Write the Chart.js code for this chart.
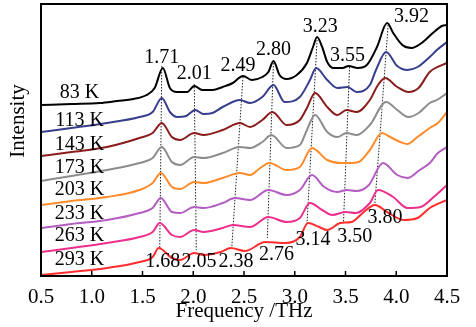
<!DOCTYPE html>
<html><head><meta charset="utf-8">
<script src="https://cdn.jsdelivr.net/npm/chart.js@4.4.1/dist/chart.umd.min.js"></script>
<style>html,body{margin:0;padding:0;background:#fff}#wrap{width:476px;height:327px}</style>
</head><body><div id="wrap"><canvas id="c" width="476" height="327"></canvas></div>
<script>
// ---- data (frequency in THz, intensity in arbitrary units, offset per curve) ----
const xTicks = [0.5,1.0,1.5,2.0,2.5,3.0,3.5,4.0,4.5];
const temps = ['83 K','113 K','143 K','173 K','203 K','233 K','263 K','293 K'];

const freq83 = [0.5,0.8,1.08,1.25,1.41,1.54,1.62,1.70,1.77,1.84,1.94,2.01,2.09,2.19,2.29,2.39,2.49,2.58,2.68,2.74,2.79,2.85,2.92,3.02,3.12,3.18,3.22,3.27,3.32,3.38,3.47,3.53,3.62,3.71,3.81,3.91,3.97,4.06,4.15,4.25,4.36,4.45,4.5];
const int83  = [171,172,173,175,177,181,188,208,188,184,184,190,186,186,189,193,200,196,199,204,215,201,197,201,213,229,239,229,214,208,208,210,208,211,229,253,243,231,228,233,243,250,251];

const freq113 = [0.5,0.8,1.15,1.47,1.6,1.69,1.77,1.84,1.93,2.02,2.1,2.19,2.29,2.46,2.56,2.68,2.79,2.9,3.05,3.15,3.21,3.32,3.42,3.52,3.61,3.74,3.8,3.9,4.01,4.11,4.21,4.33,4.4,4.5];
const int113  = [144,148,153,159,164,178,164,159,160,166,162,163,169,176,173,179,191,174,179,196,208,196,188,189,184,191,206,224,210,206,209,219,226,234];

const freq143 = [0.5,0.8,1.15,1.47,1.6,1.69,1.79,1.87,2.01,2.1,2.29,2.46,2.56,2.68,2.78,2.92,3.05,3.12,3.2,3.32,3.42,3.51,3.61,3.74,3.82,3.89,4.01,4.12,4.22,4.33,4.5];
const int143  = [120,124,129,138,143,153,139,136,143,141,146,153,149,156,164,151,156,168,183,169,161,166,164,176,191,198,189,184,188,204,213];

const freq173 = [0.5,0.8,1.15,1.47,1.6,1.69,1.79,1.87,2.01,2.1,2.29,2.46,2.56,2.68,2.77,2.92,3.05,3.12,3.2,3.32,3.42,3.51,3.61,3.74,3.9,4.01,4.12,4.22,4.33,4.4,4.5];
const int173  = [95,100,106,113,118,129,114,111,119,118,123,129,128,134,141,128,131,146,161,144,139,143,141,151,174,166,159,163,173,176,183];

const freq203 = [0.5,0.8,1.15,1.47,1.6,1.68,1.79,1.87,2.01,2.1,2.29,2.46,2.56,2.66,2.75,2.92,3.05,3.17,3.32,3.45,3.55,3.63,3.74,3.86,3.94,4.04,4.11,4.21,4.33,4.41,4.5];
const int203  = [71,75,79,86,93,103,89,87,94,93,98,103,101,108,113,106,109,128,116,113,113,114,126,143,139,134,132,139,148,153,164];

const freq233 = [0.5,0.8,1.15,1.47,1.6,1.68,1.79,1.87,2.01,2.1,2.29,2.41,2.56,2.74,2.92,3.05,3.17,3.29,3.42,3.51,3.61,3.73,3.87,4.01,4.11,4.23,4.33,4.41,4.5];
const int233  = [48,52,56,63,68,78,64,63,69,68,73,78,76,86,81,86,101,89,84,86,85,91,113,101,98,106,113,123,129];

const freq263 = [0.5,0.8,1.15,1.47,1.6,1.67,1.79,1.87,2.01,2.1,2.29,2.39,2.56,2.74,2.92,3.05,3.15,3.27,3.37,3.5,3.6,3.74,3.82,3.97,4.11,4.24,4.37,4.5];
const int263  = [24,28,33,39,44,53,41,39,46,44,48,51,49,59,54,58,73,66,61,64,63,73,86,79,68,69,79,91];

const freq293 = [0.5,0.8,1.15,1.47,1.6,1.66,1.79,1.87,2.01,2.1,2.27,2.37,2.51,2.71,2.91,3.05,3.13,3.24,3.32,3.45,3.56,3.67,3.79,3.91,4.07,4.21,4.33,4.5];
const int293  = [1,4,8,14,19,28,18,16,23,21,24,28,25,34,33,39,53,49,46,53,54,63,71,64,56,58,68,76];

// peak guide lines (top of black curve -> bottom of red curve)
const dotTopF = [1.69,2.01,2.49,2.79,3.22,3.54,3.92];
const dotTopV = [210,192,199,213,236,209,251];
const dotBotF = [1.67,2.03,2.38,2.73,3.12,3.48,3.79];
const dotBotV = [28,26,29,38,51,53,73];

// peak labels
const peakLabels = ['1.71','2.01','2.49','2.80','3.23','3.55','3.92','1.68','2.05','2.38','2.76','3.14','3.50','3.80'];
const peakLabelF = [1.69,2.01,2.44,2.79,3.25,3.52,4.15,1.70,2.057,2.42,2.82,3.18,3.59,3.89];
const peakLabelV = [218,202,210,226,249,220,259,14,14,14,21,36,39,58];

// temperature labels
const tempLabelF = [0.88,0.88,0.88,0.88,0.88,0.88,0.88,0.88];
const tempLabelV = [183,155,131,108,86,62,40,16];

// ---- styles ----
const colors = ['#000000','#363e8e','#8b1c1c','#8c8c8c','#ff8a2a','#b35cc2','#ec2f8c','#ff2d2d'];
const FONT = '"Liberation Serif", "Times New Roman", serif';

const freqs = [freq83,freq113,freq143,freq173,freq203,freq233,freq263,freq293];
const ints  = [int83,int113,int143,int173,int203,int233,int263,int293];

const datasets = [];
temps.forEach((t,k)=>{
  datasets.push({
    label: t,
    data: freqs[k].map((f,i)=>({x:f,y:ints[k][i]})),
    borderColor: colors[k],
    borderWidth: 2,
    pointRadius: 0,
    fill: false,
    cubicInterpolationMode: 'monotone',
    order: 1
  });
});
dotTopF.forEach((f,i)=>{
  datasets.push({
    label: 'guide'+i,
    data: [{x:f,y:dotTopV[i]},{x:dotBotF[i],y:dotBotV[i]}],
    borderColor: '#222',
    borderWidth: 1,
    borderDash: [1.5,1.5],
    pointRadius: 0,
    fill: false,
    order: 2
  });
});

const overlay = {
  id: 'overlay',
  afterDraw(chart){
    const {ctx, chartArea:a, scales:{x,y}} = chart;
    ctx.save();
    ctx.strokeStyle = '#000';
    ctx.lineWidth = 2;
    ctx.strokeRect(a.left, a.top, a.right-a.left, a.bottom-a.top);
    ctx.lineWidth = 1.5;
    xTicks.forEach(t=>{
      const px = x.getPixelForValue(t);
      ctx.beginPath(); ctx.moveTo(px, a.bottom); ctx.lineTo(px, a.bottom-5); ctx.stroke();
    });
    ctx.fillStyle = '#000';
    ctx.textAlign = 'center';
    ctx.textBaseline = 'middle';
    ctx.font = '20px ' + FONT;
    temps.forEach((t,i)=>{
      ctx.fillText(t, x.getPixelForValue(tempLabelF[i]), y.getPixelForValue(tempLabelV[i]));
    });
    peakLabels.forEach((t,i)=>{
      ctx.fillText(t, x.getPixelForValue(peakLabelF[i]), y.getPixelForValue(peakLabelV[i]));
    });
    // y-axis title
    ctx.font = '21px ' + FONT;
    ctx.translate(18, (a.top + a.bottom)/2 - 19);
    ctx.rotate(-Math.PI/2);
    ctx.fillText('Intensity', 0, 0);
    ctx.restore();
  }
};

new Chart(document.getElementById('c'), {
  type: 'line',
  data: { datasets },
  options: {
    responsive: false,
    devicePixelRatio: 1,
    animation: false,
    layout: { padding: { top: 4, right: 29, left: 0, bottom: 0 } },
    plugins: { legend: { display: false }, tooltip: { enabled: false } },
    scales: {
      x: {
        type: 'linear', min: 0.5, max: 4.5,
        afterBuildTicks(s){ s.ticks = xTicks.map(v=>({value:v})); },
        ticks: { color:'#000', font:{ family: FONT, size: 21 }, padding: 9, maxRotation: 0,
                 callback: v => Number(v).toFixed(1) },
        grid: { display: false, drawTicks: false },
        border: { display: false },
        title: { display: true, text: 'Frequency /THz', color:'#000',
                 font:{ family: FONT, size: 21 }, padding: { top: 0, bottom: 3 } },
        afterFit(s){ s.height = 51; }
      },
      y: {
        min: 0, max: 272,
        ticks: { display: false },
        grid: { display: false, drawTicks: false },
        border: { display: false },
        afterFit(s){ s.width = 41; }
      }
    }
  },
  plugins: [overlay]
});
</script>
</body></html>
